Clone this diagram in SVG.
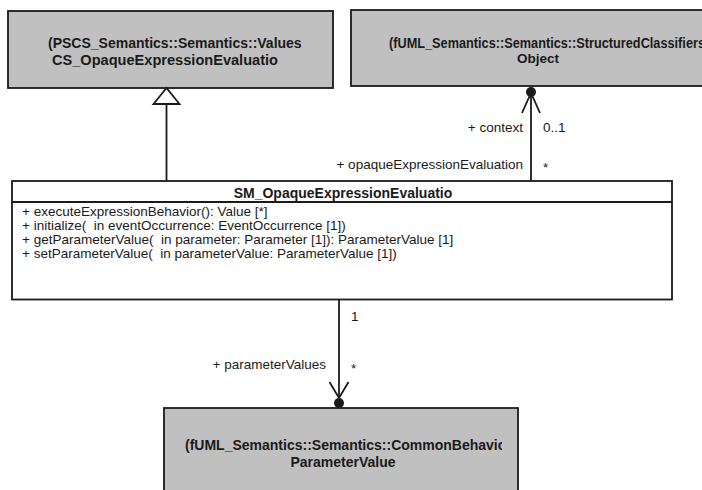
<svg xmlns="http://www.w3.org/2000/svg" width="702" height="490" viewBox="0 0 702 490">
<style>
.box{fill:#C0C0C0;stroke:#1a1a1a;stroke-width:1.8}
.cls{fill:#ffffff;stroke:#1a1a1a;stroke-width:1.8}
.t{font-family:"Liberation Sans",Arial,sans-serif;font-weight:bold;font-size:14px;fill:#1a1a1a}
.op{font-family:"Liberation Sans",Arial,sans-serif;font-size:13.5px;fill:#1a1a1a;white-space:pre}
.lb{font-family:"Liberation Sans",Arial,sans-serif;font-size:13.5px;fill:#1a1a1a}
.ln{fill:none;stroke:#1a1a1a;stroke-width:1.8}
</style>
<defs>
<clipPath id="c1"><rect x="10" y="12" width="322" height="75"/></clipPath>
<clipPath id="c3"><rect x="166" y="410" width="336" height="80"/></clipPath>
</defs>
<rect width="702" height="490" fill="#ffffff"/>
<g id="node-cs">
<rect class="box" x="8" y="11" width="325" height="77"/>
<g clip-path="url(#c1)">
<text class="t" x="48" y="48">(PSCS_Semantics::Semantics::Values</text>
<text class="t" x="52" y="65" textLength="226" lengthAdjust="spacingAndGlyphs">CS_OpaqueExpressionEvaluatio</text>
</g>
</g>
<g id="node-object">
<rect class="box" x="351" y="10" width="374" height="76"/>
<text class="t" x="389" y="48" textLength="316" lengthAdjust="spacingAndGlyphs">(fUML_Semantics::Semantics::StructuredClassifiers</text>
<text class="t" x="538" y="63" text-anchor="middle" style="font-size:13.5px">Object</text>
</g>
<g id="node-sm">
<rect class="cls" x="12" y="181" width="660" height="118.5"/>
<line class="ln" x1="12" y1="202" x2="672" y2="202"/>
<text class="t" x="343" y="198" text-anchor="middle">SM_OpaqueExpressionEvaluatio</text>
<text class="op" x="22" y="216" xml:space="preserve">+ executeExpressionBehavior(): Value [*]</text>
<text class="op" x="22" y="230" xml:space="preserve">+ initialize(  in eventOccurrence: EventOccurrence [1])</text>
<text class="op" x="22" y="244" xml:space="preserve">+ getParameterValue(  in parameter: Parameter [1]): ParameterValue [1]</text>
<text class="op" x="22" y="258" xml:space="preserve">+ setParameterValue(  in parameterValue: ParameterValue [1])</text>
</g>
<g id="node-pv">
<rect class="box" x="164" y="408" width="354" height="100"/>
<g clip-path="url(#c3)">
<text class="t" x="185" y="450">(fUML_Semantics::Semantics::CommonBehavio</text>
</g>
<text class="t" x="343" y="467" text-anchor="middle">ParameterValue</text>
</g>
<g id="connectors">
<line class="ln" x1="166.5" y1="104" x2="166.5" y2="181"/>
<polygon points="166.5,88 153.5,104 179.5,104" fill="#ffffff" stroke="#1a1a1a" stroke-width="1.8"/>
<line class="ln" x1="531" y1="92" x2="531" y2="181"/>
<polyline class="ln" points="522,113 531,93 540,113"/>
<circle cx="531" cy="92" r="5" fill="#1a1a1a"/>
<line class="ln" x1="339" y1="300" x2="339" y2="403"/>
<polyline class="ln" points="329.5,382 339,398 348.5,382"/>
<circle cx="339" cy="403" r="5" fill="#1a1a1a"/>
<text class="lb" x="523" y="132" text-anchor="end">+ context</text>
<text class="lb" x="543" y="132">0..1</text>
<text class="lb" x="523" y="169" text-anchor="end">+ opaqueExpressionEvaluation</text>
<text class="lb" x="543" y="172">*</text>
<text class="lb" x="351" y="321">1</text>
<text class="lb" x="326" y="369" text-anchor="end">+ parameterValues</text>
<text class="lb" x="351" y="373">*</text>
</g>
</svg>
